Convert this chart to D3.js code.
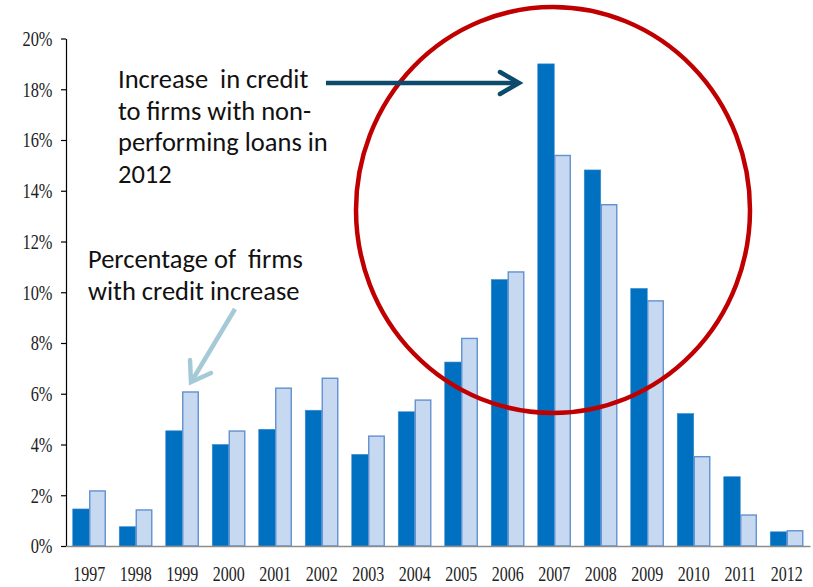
<!DOCTYPE html>
<html>
<head>
<meta charset="utf-8">
<script src="https://cdn.jsdelivr.net/npm/d3@7"></script>
<style>
  body { margin: 0; background: #fff; }
  svg { display: block; }
</style>
</head>
<body>
<svg id="chart" width="813" height="587"></svg>
<script>
// Years on the horizontal axis
const years = ["1997","1998","1999","2000","2001","2002","2003","2004",
               "2005","2006","2007","2008","2009","2010","2011","2012"];
// Increase in credit to firms with non-performing loans in 2012 (%)
const creditToNPL = [1.46, 0.76, 4.54, 4.00, 4.60, 5.35, 3.61, 5.29,
                     7.25, 10.50, 19.00, 14.82, 10.15, 5.22, 2.73, 0.56];
// Percentage of firms with credit increase (%)
const firmsWithIncrease = [2.17, 1.42, 6.07, 4.53, 6.22, 6.61, 4.33, 5.75,
                           8.18, 10.80, 15.39, 13.45, 9.66, 3.52, 1.22, 0.60];
// Vertical axis ticks (%)
const yTicks = [0, 2, 4, 6, 8, 10, 12, 14, 16, 18, 20];

const svg = d3.select("#chart");
const plotLeft = 66, plotRight = 810, plotTop = 38.5, plotBottom = 546;

const x = d3.scaleBand().domain(years).range([plotLeft, plotRight]).paddingInner(0.29).paddingOuter(0.145);
const sub = d3.scaleBand().domain(["npl", "firms"]).range([0, x.bandwidth()]);
const y = d3.scaleLinear().domain([0, 20]).range([plotBottom, plotTop]);

const serifLabel = "'Liberation Serif', 'DejaVu Serif', serif";
const labelSquash = 0.78;

// Bars: dark series
svg.append("g").selectAll("rect")
  .data(years.map((yr, i) => ({ yr, v: creditToNPL[i] })))
  .join("rect")
  .attr("x", d => x(d.yr) + sub("npl"))
  .attr("y", d => y(d.v))
  .attr("width", sub.bandwidth())
  .attr("height", d => y(0) - y(d.v))
  .attr("fill", "#0070C0")
  .attr("stroke", "#3d8bd0")
  .attr("stroke-width", 0.6);

// Bars: light series
svg.append("g").selectAll("rect")
  .data(years.map((yr, i) => ({ yr, v: firmsWithIncrease[i] })))
  .join("rect")
  .attr("x", d => x(d.yr) + sub("firms") + 0.5)
  .attr("y", d => y(d.v))
  .attr("width", sub.bandwidth() - 1)
  .attr("height", d => y(0) - y(d.v))
  .attr("fill", "#C6D9F0")
  .attr("stroke", "#6191CF")
  .attr("stroke-width", 1.4);

// Y axis
const yAxis = svg.append("g")
  .attr("transform", `translate(${plotLeft},0)`)
  .call(d3.axisLeft(y).tickValues(yTicks).tickSize(5).tickSizeOuter(0).tickFormat(d => d + "%"));
yAxis.select(".domain").attr("stroke", "#000").attr("stroke-width", 1.2);
yAxis.selectAll(".tick line").attr("stroke", "#000").attr("stroke-width", 1.2);
yAxis.selectAll(".tick text")
  .attr("font-family", serifLabel)
  .attr("font-size", 21)
  .attr("fill", "#222")
  .attr("x", -13.5 / labelSquash)
  .attr("transform", `scale(${labelSquash},1)`)
  .attr("dy", "0.33em");

// X axis
const xAxis = svg.append("g")
  .attr("transform", `translate(0,${plotBottom})`)
  .call(d3.axisBottom(x).tickSize(0).tickSizeOuter(0));
xAxis.select(".domain").attr("stroke", "#8c8c8c").attr("stroke-width", 1.6);
xAxis.selectAll(".tick text")
  .attr("font-family", serifLabel)
  .attr("font-size", 20.5)
  .attr("fill", "#222")
  .attr("y", 35)
  .attr("dy", 0)
  .attr("transform", `scale(${labelSquash},1)`);

// Highlight ellipse around the 2006–2009 peak
svg.append("ellipse")
  .attr("cx", 553).attr("cy", 210)
  .attr("rx", 197).attr("ry", 203)
  .attr("fill", "none")
  .attr("stroke", "#C00000")
  .attr("stroke-width", 4.5);

// Annotation text
const sansFont = "Carlito, Lato, 'Open Sans', sans-serif";
const note1 = ["Increase\u00a0\u00a0in credit", "to firms with non-", "performing loans in", "2012"];
svg.append("g").selectAll("text")
  .data(note1).join("text")
  .attr("x", 118)
  .attr("y", (d, i) => 88 + i * 31.5)
  .attr("font-family", sansFont)
  .attr("font-size", 26.5)
  .attr("fill", "#111")
  .text(d => d);

const note2 = ["Percentage of\u00a0\u00a0firms", "with credit increase"];
svg.append("g").selectAll("text")
  .data(note2).join("text")
  .attr("x", 88)
  .attr("y", (d, i) => 268 + i * 32)
  .attr("font-family", sansFont)
  .attr("font-size", 26.5)
  .attr("fill", "#111")
  .text(d => d);

// Arrow to the 2007 bar
const darkArrow = "#0D4A6C";
svg.append("line")
  .attr("x1", 326).attr("y1", 83).attr("x2", 518).attr("y2", 83)
  .attr("stroke", darkArrow).attr("stroke-width", 4.5);
svg.append("path")
  .attr("d", "M500,72 L519,83 L500,94")
  .attr("fill", "none").attr("stroke", darkArrow).attr("stroke-width", 4.5)
  .attr("stroke-linecap", "round").attr("stroke-linejoin", "miter");

// Arrow to the 1999 bar
const lightArrow = "#A6C9D8";
svg.append("line")
  .attr("x1", 235).attr("y1", 309).attr("x2", 193).attr("y2", 379)
  .attr("stroke", lightArrow).attr("stroke-width", 4.5);
svg.append("path")
  .attr("d", "M190,360 L191,382 L211,373")
  .attr("fill", "none").attr("stroke", lightArrow).attr("stroke-width", 4.5)
  .attr("stroke-linecap", "round");
</script>
</body>
</html>
